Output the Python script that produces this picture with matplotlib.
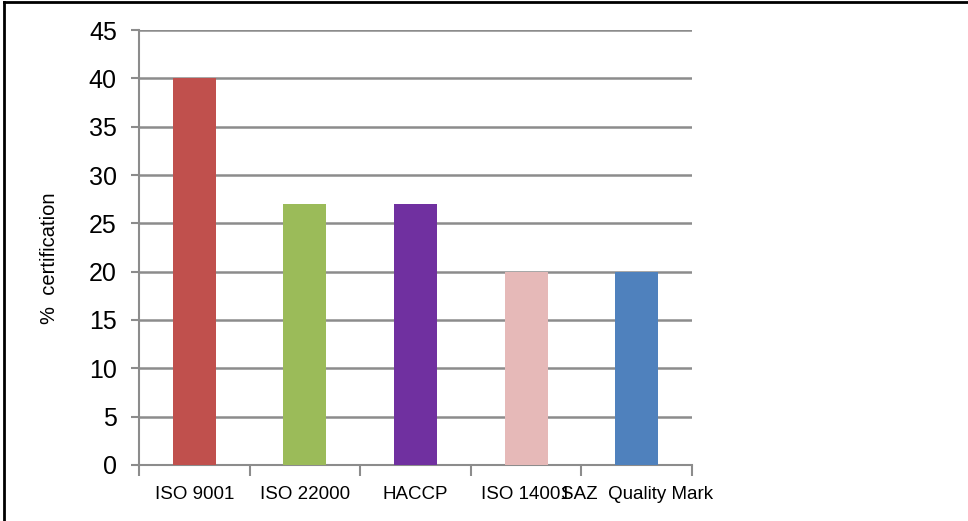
import matplotlib
matplotlib.use("Agg")
import matplotlib.pyplot as plt
from matplotlib.lines import Line2D

# certification types and share of firms holding them
categories = ["ISO 9001", "ISO 22000", "HACCP", "ISO 14001", "SAZ  Quality Mark"]
values = [40, 27, 27, 20, 20]
colors = ["#C0504D", "#9BBB59", "#7030A0", "#E6B9B8", "#4F81BD"]
yticks = [0, 5, 10, 15, 20, 25, 30, 35, 40, 45]

plt.rcParams["font.family"] = ["Liberation Sans", "DejaVu Sans"]

fig = plt.figure(figsize=(9.68, 5.21), dpi=100)
ax = fig.add_axes([0.1436, 0.1075, 0.5713, 0.8349])

x = list(range(len(categories)))
ax.bar(x, values, width=0.39, color=colors, zorder=3)

ax.set_xlim(-0.5, len(categories) - 0.5)
ax.set_ylim(0, 45)
ax.set_yticks(yticks)
ax.set_yticklabels([str(v) for v in yticks], fontsize=18)
ax.yaxis.grid(True, color="#8c8c8c", linewidth=1.8, zorder=0)
ax.set_axisbelow(True)

# category ticks sit on the boundaries between bars
ax.set_xticks([i - 0.5 for i in range(len(categories) + 1)], minor=False)
ax.set_xticklabels([])
ax.set_xticks(x, minor=True)
ax.set_xticklabels(categories, minor=True, fontsize=13.5)
ax.tick_params(axis="x", which="minor", length=0, pad=15)
ax.tick_params(axis="x", which="major", length=8, width=1.5, color="#8c8c8c", direction="out")
ax.tick_params(axis="y", length=6, width=1.5, color="#8c8c8c", pad=10)

for s in ["top", "right"]:
    ax.spines[s].set_visible(False)
for s in ["left", "bottom"]:
    ax.spines[s].set_color("#8c8c8c")
    ax.spines[s].set_linewidth(1.5)

ax.set_ylabel("%  certification", fontsize=14.5, va="center")
ax.yaxis.set_label_coords(-0.161, 0.476)

# outer frame, cropped on the right and bottom
fig.add_artist(Line2D([0.0045, 0.0045], [0, 0.996], color="black", linewidth=2,
                      transform=fig.transFigure))
fig.add_artist(Line2D([0.0045, 1], [0.996, 0.996], color="black", linewidth=2,
                      transform=fig.transFigure))

fig.savefig("out.png", dpi=100)
